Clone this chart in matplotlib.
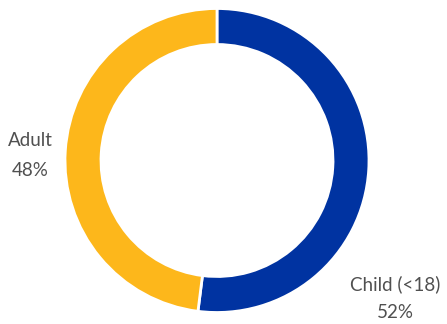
import matplotlib.pyplot as plt

labels = ["Child (<18)", "Adult"]
shares = [52, 48]
colors = ["#0033A1", "#FDB71B"]

fig = plt.figure(figsize=(4.47, 3.24), dpi=100)
ax = fig.add_axes([0, 0, 1, 1])

# pixel-like coordinates: y axis inverted, so counterclock=True draws clockwise on screen
ax.pie(shares, colors=colors, startangle=-90, counterclock=True,
       center=(217, 160.5), radius=152,
       wedgeprops=dict(width=36, edgecolor="white", linewidth=2))
ax.set_aspect("equal")
ax.set_xlim(0, 447)
ax.set_ylim(324, 0)
ax.axis("off")

label_pos = [(395, 284, 313), (30, 140, 170)]
for lab, pct, (x, y1, y2) in zip(labels, shares, label_pos):
    ax.text(x, y1, lab, ha="center", va="center", fontsize=13.5,
            family="Lato", color="#505050")
    ax.text(x, y2, f"{pct}%", ha="center", va="center", fontsize=13.5,
            family="Lato", color="#505050")

fig.savefig("out.png", dpi=100)
